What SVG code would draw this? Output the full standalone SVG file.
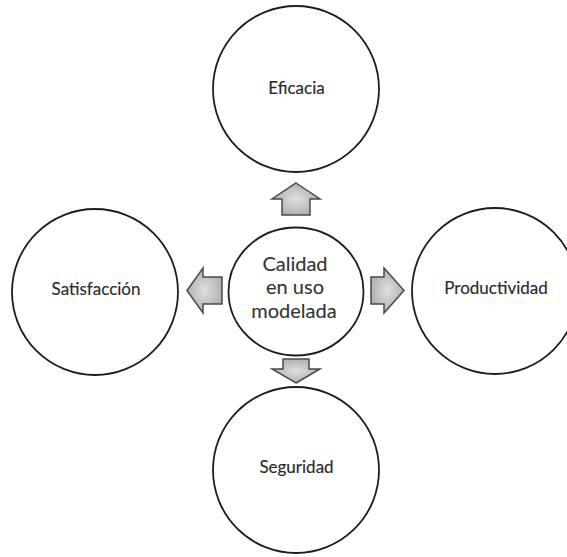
<svg xmlns="http://www.w3.org/2000/svg" width="567" height="557" viewBox="0 0 567 557">
  <defs>
    <radialGradient id="arrowFill" cx="50%" cy="50%" r="60%">
      <stop offset="0" stop-color="#dedede"/>
      <stop offset="1" stop-color="#a9a9a9"/>
    </radialGradient>
    <style>
      .node { fill: #ffffff; stroke: #1e1e1e; stroke-width: 1.8; }
      .lbl { font-family: Lato, "Open Sans", "Liberation Sans", sans-serif; font-size: 17px; fill: #2a2a2a; stroke: #2a2a2a; stroke-width: 0.15; text-anchor: middle; }
      .center { font-family: Lato, "Open Sans", "Liberation Sans", sans-serif; font-size: 20px; fill: #333333; stroke: #333333; stroke-width: 0.1; text-anchor: middle; }
      .arrow { fill: url(#arrowFill); stroke: #4a4a4a; stroke-width: 1.5; stroke-linejoin: miter; }
    </style>
  </defs>
  <rect width="567" height="557" fill="#ffffff"/>

  <g id="eficacia">
    <circle class="node" cx="296" cy="89" r="83"/>
    <text class="lbl" x="296.5" y="94">Eficacia</text>
  </g>
  <g id="satisfaccion">
    <circle class="node" cx="95" cy="292" r="83"/>
    <text class="lbl" x="96" y="295">Satisfacción</text>
  </g>
  <g id="productividad">
    <circle class="node" cx="495" cy="291" r="83"/>
    <text class="lbl" x="496" y="294">Productividad</text>
  </g>
  <g id="seguridad">
    <circle class="node" cx="296" cy="470" r="83"/>
    <text class="lbl" x="296.5" y="473">Seguridad</text>
  </g>
  <g id="calidad">
    <ellipse class="node" cx="296" cy="291.5" rx="67.5" ry="64"/>
    <text class="center" x="295" y="271">Calidad</text>
    <text class="center" x="295" y="294">en uso</text>
    <text class="center" x="294" y="318">modelada</text>
  </g>

  <g id="connectors">
    <path class="arrow" d="M296,183 L320,199 L310,199 L310,215 L282,215 L282,199 L272,199 Z"/>
    <path class="arrow" d="M296,383 L320,369 L309,369 L309,359 L283,359 L283,369 L272,369 Z"/>
    <path class="arrow" d="M187,290.5 L203,268 L203,277 L222,277 L222,304 L203,304 L203,313 Z"/>
    <path class="arrow" d="M404,290.5 L384,268 L384,277 L371,277 L371,304 L384,304 L384,313 Z"/>
  </g>
</svg>
